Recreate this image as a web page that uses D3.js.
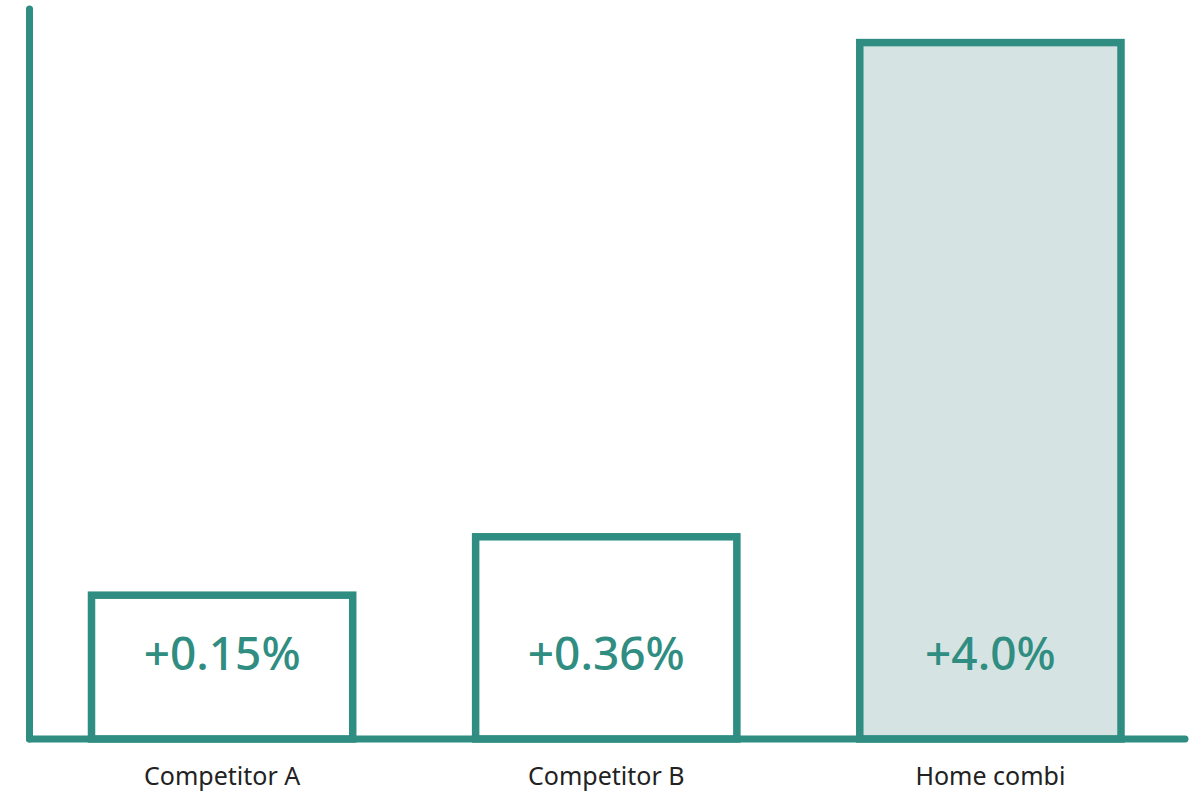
<!DOCTYPE html>
<html>
<head>
<meta charset="utf-8">
<script src="https://cdn.jsdelivr.net/npm/d3@7"></script>
<style>
  html, body { margin: 0; padding: 0; background: #ffffff; }
  svg { display: block; }
</style>
</head>
<body>
<div id="chart"></div>
<script>
// Data
const categories = ['Competitor A', 'Competitor B', 'Home combi'];
const valueLabels = ['+0.15%', '+0.36%', '+4.0%'];
// bar heights as drawn (not to scale with the labels), share of axis height
const barHeights = [19.7, 27.7, 95.4];
const highlighted = [false, false, true];

const width = 1198;
const height = 794;
const teal = '#2f8d81';
const lightFill = '#d6e3e3';

const svg = d3.select('#chart').append('svg')
  .attr('width', width)
  .attr('height', height);

// Scales
const xScale = d3.scaleBand()
  .domain(categories)
  .range([29.5, 1185])
  .paddingInner(0.32)
  .paddingOuter(0.164);

const yScale = d3.scaleLinear()
  .domain([0, 100])
  .range([739, 9]);

// Bars
svg.selectAll('.bar')
  .data(categories)
  .enter()
  .append('rect')
  .attr('class', 'bar')
  .attr('x', d => xScale(d) - 1)
  .attr('y', (d, i) => yScale(barHeights[i]))
  .attr('width', xScale.bandwidth())
  .attr('height', (d, i) => yScale(0) - yScale(barHeights[i]))
  .attr('fill', (d, i) => highlighted[i] ? lightFill : '#ffffff')
  .attr('stroke', teal)
  .attr('stroke-width', 7.5);

// Value labels inside the bars
svg.selectAll('.value')
  .data(categories)
  .enter()
  .append('text')
  .attr('class', 'value')
  .attr('x', d => xScale(d) - 1 + xScale.bandwidth() / 2)
  .attr('y', 670)
  .attr('text-anchor', 'middle')
  .attr('font-family', '"Noto Sans", sans-serif')
  .attr('font-size', 46)
  .attr('font-weight', 500)
  .attr('fill', teal)
  .text((d, i) => valueLabels[i]);

// Y axis (plain line, no ticks)
svg.append('line')
  .attr('x1', 29.5)
  .attr('x2', 29.5)
  .attr('y1', yScale(0))
  .attr('y2', yScale(100))
  .attr('stroke', teal)
  .attr('stroke-width', 7)
  .attr('stroke-linecap', 'round');

// X axis: category labels only
const xAxis = d3.axisBottom(xScale).tickSize(0).tickPadding(28);

const xAxisG = svg.append('g')
  .attr('class', 'x-axis')
  .attr('transform', `translate(-1, ${yScale(0)})`)
  .call(xAxis);

xAxisG.select('.domain').remove();
xAxisG.selectAll('text')
  .attr('font-family', '"Noto Sans", sans-serif')
  .attr('font-size', 25)
  .attr('fill', '#222222');

svg.append('line')
  .attr('x1', 29.5)
  .attr('x2', 1185)
  .attr('y1', yScale(0))
  .attr('y2', yScale(0))
  .attr('stroke', teal)
  .attr('stroke-width', 7)
  .attr('stroke-linecap', 'round');
</script>
</body>
</html>
